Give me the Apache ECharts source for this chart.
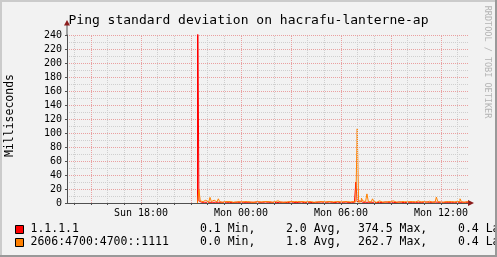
<!DOCTYPE html>
<html><head><meta charset="utf-8">
<script src="https://cdn.jsdelivr.net/npm/echarts@6/dist/echarts.min.js"></script>
<style>html,body{margin:0;padding:0;background:#f2f2f2}#c{width:497px;height:257px}</style>
</head><body><div id="c"></div>
<script>
// ---- data ----
const titleText = 'Ping standard deviation on hacrafu-lanterne-ap';
const yAxisTitle = 'Milliseconds';
const watermark = 'RRDTOOL / TOBI OETIKER';
const seriesNames = ['1.1.1.1', '2606:4700:4700::1111'];
const statsMin = ['0.1', '0.0'];
const statsAvg = ['2.0', '1.8'];
const statsMax = ['374.5', '262.7'];
const statsLast = ['0.4', '0.4'];
// time in hours since Sun 00:00, 5-minute samples
const startHour = 21.39;
const stepHours = 5 / 60;
const red = [0, 374.5,
  3,1,1,1,1,1,0.5,1,1,1,1,1,1,1,1,1,0.5,1,1,
  1,0.5,1,1,0.5,1,1,1,1,0.5, 1,1,1,0.5,1,1,1,0.5,1,1,
  1,1,1.5,0.5,1,1,1,0.5,1.5,1, 1,0.5,1,1.5,1,1,0.5,1,1,1,
  1,1.5,1,1,0.5,1,1.5,1,1,1, 0.5,1,1,1,1.5,1,0.5,1,1,1,
  1,1,0.5,1.5,1,1,1,1,1.5,0.5, 1,1,1,1,1.5,1,1,1,0.5,1,
  1.5,1,0.5,1,1,1,1.5,1,0.5,1, 1,1,1,1,30,2,3,1,1,1,
  1,1,1,1,1,1,1,1,0.5,1, 1,1,0.5,1,1.5,1,1,0.5,1,1,
  1,1,0.5,1,1.5,1,1,1,0.5,1, 1,1,1,1.5,1,0.5,1,1,1,1,
  1,1,1,1,1.5,1,1,0.5,1,1, 1.5,1,1,1,1,0.5,1,1,1,1,
  1,1,1,1,1,1.5,1,1,1,1, 1,1.5,1,1,1];
const orange = [0,
  2,19,3,2,2,4,2,1,2,8, 2,4,2,1.5,2,6,2,1,1.5,2,
  2,2,1.5,2,2,1,2,1.5,0.5,2, 2,1.5,2,2,1,2,2,1.5,2,1,
  2,1.5,0.5,2,2,1.5,2,2,1,2, 1.5,2,2,1,2,2,1.5,3,2,1.5,
  2,1,2,1.5,2,2,0.5,2,3,2, 1.5,2,3,2,1,2,2,1.5,2,2,
  1.5,2,2,1,2,1.5,2,2,0.5,2, 2,1.5,2,2,1,2,2,1.5,2,2,
  1,2,2,1.5,2,2,1,2,2,1.5, 2,2,2,1.5,2,106,1,2,7,3,
  2,1,13,2,1.5,4,6,2,1,2, 3,2,1.5,2,1,2,2,1.5,2,2,
  3,2,1.5,2,1,2,2,0.5,2,2, 1.5,2,2,1,2,2,1.5,2,3,2,
  1.5,2.5,2,2.5,1,2,2.5,2,1.5,2, 1,2,8.5,2,1.5,2,1,2,2,1.5,
  2,2,2,2,1.5,1,2,1.5,2,6, 2,1,2.5,2,1.5];
const xLabelHours = [18, 24, 30, 36];
const xLabelTexts = ['Sun 18:00', 'Mon 00:00', 'Mon 06:00', 'Mon 12:00'];
const majorGridHours = [15, 18, 21, 24, 27, 30, 33, 36];
const minorGridHours = [14, 16, 17, 19, 20, 22, 23, 25, 26, 28, 29, 31, 32, 34, 35, 37];
const xMin = 13.56, xMax = 37.62;
const yMin = 0, yMax = 240, yStep = 20;

// ---- chart ----
const MONO = 'DejaVu Sans Mono';
const toPairs = arr => arr.map((v, i) => [startHour + i * stepHours, v]);
const chart = echarts.init(document.getElementById('c'), null, {renderer: 'canvas'});
const colors = ['#ff0000', '#ff8000'];
const legendGraphics = [];
seriesNames.forEach((n, k) => {
  const cy = [229.5, 242.5][k];
  legendGraphics.push({type: 'rect', shape: {x: 15.5, y: cy - 4, width: 8, height: 8},
    style: {fill: colors[k], stroke: '#000', lineWidth: 1}});
  const t = (x, s) => legendGraphics.push({type: 'text', x: x, y: cy,
    style: {text: s, font: '11.5px ' + MONO, fill: '#000', verticalAlign: 'middle', align: 'left'}});
  t(30.5, n);
  t(200, statsMin[k] + ' Min,');
  t(286, statsAvg[k] + ' Avg,');
  t(358, statsMax[k] + ' Max,');
  t(458, statsLast[k] + ' Last');
});

const option = {
  animation: false,
  backgroundColor: '#f2f2f2',
  grid: {left: 67, right: 29, top: 35, bottom: 54, containLabel: false},
  xAxis: {
    type: 'value', min: xMin, max: xMax,
    axisLine: {show: true, lineStyle: {color: '#505050', width: 1}},
    axisTick: {show: true, length: 2, customValues: majorGridHours.concat(minorGridHours),
      lineStyle: {color: '#505050'}},
    axisLabel: {customValues: xLabelHours, margin: 5,
      fontFamily: MONO, fontSize: 10, color: '#000',
      formatter: v => xLabelTexts[xLabelHours.indexOf(Math.round(v))] || ''},
    splitLine: {show: false}
  },
  yAxis: {
    type: 'value', min: yMin, max: yMax, interval: yStep,
    axisLine: {show: true, lineStyle: {color: '#505050', width: 1}},
    axisTick: {show: true, length: 2, lineStyle: {color: '#505050'}},
    axisLabel: {margin: 5, fontFamily: MONO, fontSize: 10, color: '#000'},
    splitLine: {show: true, lineStyle: {color: '#eaa0a0', type: [1, 1], width: 1}},
    minorTick: {show: false, splitNumber: 2},
    minorSplitLine: {show: true, lineStyle: {color: '#cfcfcf', type: [1, 1], width: 1}}
  },
  series: [
    {type: 'line', z: 1, data: [], silent: true,
      markLine: {silent: true, symbol: ['none', 'none'], label: {show: false}, animation: false,
        data: majorGridHours.map(h => ({xAxis: h, lineStyle: {color: '#eaa0a0', type: [1, 1], width: 1}}))
          .concat(minorGridHours.map(h => ({xAxis: h, lineStyle: {color: '#cfcfcf', type: [1, 1], width: 1}})))}},
    {type: 'line', name: seriesNames[0], z: 3, step: 'start', showSymbol: false, clip: true,
      lineStyle: {color: colors[0], width: 1}, data: toPairs(red)},
    {type: 'line', name: seriesNames[1], z: 4, step: 'start', showSymbol: false, clip: true,
      lineStyle: {color: colors[1], width: 1}, data: toPairs(orange)}
  ],
  graphic: [
    {type: 'rect', z: 100, shape: {x: 0, y: 0, width: 497, height: 2}, style: {fill: '#cbcbcb'}},
    {type: 'rect', z: 100, shape: {x: 0, y: 0, width: 2, height: 257}, style: {fill: '#cbcbcb'}},
    {type: 'rect', z: 100, shape: {x: 0, y: 255, width: 497, height: 2}, style: {fill: '#999999'}},
    {type: 'rect', z: 100, shape: {x: 495, y: 0, width: 2, height: 257}, style: {fill: '#999999'}},
    {type: 'text', x: 248.5, y: 20.5, style: {text: titleText, font: '13px ' + MONO, fill: '#000',
      align: 'center', verticalAlign: 'middle'}},
    {type: 'text', x: 10, y: 115.5, rotation: Math.PI / 2, style: {text: yAxisTitle, font: '11.5px ' + MONO,
      fill: '#000', align: 'center', verticalAlign: 'middle'}},
    {type: 'text', x: 487.5, y: 62, rotation: -Math.PI / 2, style: {text: watermark, font: '8.5px ' + MONO,
      fill: '#b4b4b4', align: 'center', verticalAlign: 'middle'}},
    {type: 'line', shape: {x1: 67, y1: 25, x2: 67, y2: 35}, style: {stroke: '#505050', lineWidth: 1}},
    {type: 'polygon', shape: {points: [[64, 25.5], [70, 25.5], [67, 20]]}, style: {fill: '#8b1c1c'}},
    {type: 'polygon', shape: {points: [[468, 200], [468, 206], [474, 203]]}, style: {fill: '#8b1c1c'}}
  ].concat(legendGraphics)
};
chart.setOption(option);
</script></body></html>
